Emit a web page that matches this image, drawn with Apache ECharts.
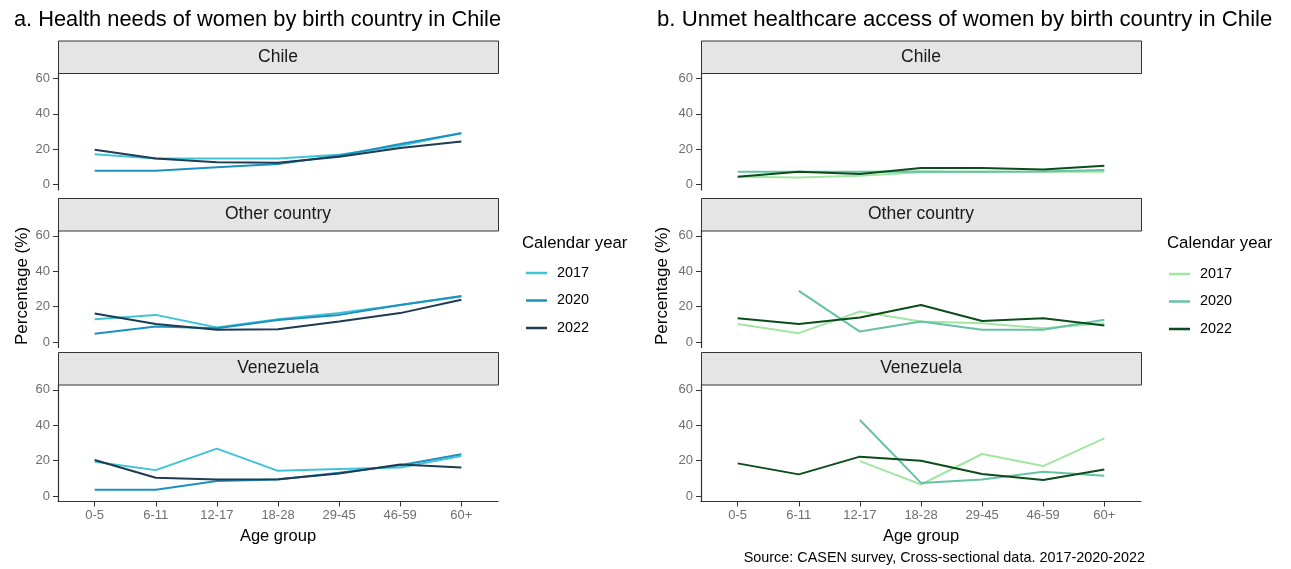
<!DOCTYPE html>
<html>
<head>
<meta charset="utf-8">
<script src="https://cdn.jsdelivr.net/npm/echarts@6/dist/echarts.min.js"></script>
<style>
html,body{margin:0;padding:0;background:#fff;}
#chart{width:1291px;height:569px;}
</style>
</head>
<body>
<div id="chart"></div>
<script>
// ---- data ----
const ages = ['0-5','6-11','12-17','18-28','29-45','46-59','60+'];
const years = ['2017','2020','2022'];
const countries = ['Chile','Other country','Venezuela'];
const yTicks = [0, 20, 40, 60];

// a. Health needs (%)
const needsChile2017 = [17.1, 14.8, 14.7, 14.7, 16.9, 22.0, 29.1];
const needsChile2020 = [7.9, 7.9, 9.8, 11.7, 16.4, 23.0, 29.0];
const needsChile2022 = [19.7, 14.8, 12.6, 12.4, 15.8, 20.7, 24.4];
const needsOther2017 = [13.0, 15.4, 8.3, 13.0, 16.5, 21.0, 25.8];
const needsOther2020 = [4.7, 8.8, 7.9, 12.5, 15.4, 21.0, 26.0];
const needsOther2022 = [16.2, 10.2, 7.0, 7.3, 11.7, 16.4, 23.9];
const needsVen2017 = [19.4, 14.7, 26.8, 14.3, 15.3, 16.2, 22.6];
const needsVen2020 = [3.6, 3.6, 8.5, 9.4, 13.2, 17.5, 23.6];
const needsVen2022 = [20.4, 10.4, 9.4, 9.6, 12.8, 17.9, 16.2];

// b. Unmet healthcare access (%)
const unmetChile2017 = [4.5, 4.1, 5.0, 7.0, 7.3, 7.3, 7.3];
const unmetChile2020 = [7.3, 7.3, 7.3, 7.5, 7.3, 7.5, 8.3];
const unmetChile2022 = [4.5, 7.3, 6.0, 9.4, 9.4, 8.6, 10.7];
const unmetOther2017 = [10.2, 5.1, 17.3, 11.7, 10.7, 7.9, 10.7];
const unmetOther2020 = [null, 28.9, 6.0, 11.7, 7.0, 7.0, 12.6];
const unmetOther2022 = [13.5, 10.2, 13.9, 21.0, 12.0, 13.5, 9.4];
const unmetVen2017 = [null, null, 19.8, 6.6, 23.8, 17.0, 32.6];
const unmetVen2020 = [null, null, 43.0, 7.5, 9.4, 13.8, 11.5];
const unmetVen2022 = [18.5, 12.3, 22.3, 20.0, 12.5, 9.1, 15.1];

// ---- styling / layout ----
const colorsA = ['#3ec4d6', '#1c90c0', '#1d3b52'];
const colorsB = ['#a3e6a3', '#66c2a4', '#0b4d1a'];
const FONT = 'Liberation Sans, Arial, sans-serif';
const gridTops = [73, 230.5, 384.5];
const gridH = 117;
const stripH = 32.5;
const lefts = [58, 701];
const gridW = 440;
const yTitleOffset = [35.5, 38.5];

const panels = [
  [[needsChile2017, needsChile2020, needsChile2022],
   [needsOther2017, needsOther2020, needsOther2022],
   [needsVen2017, needsVen2020, needsVen2022]],
  [[unmetChile2017, unmetChile2020, unmetChile2022],
   [unmetOther2017, unmetOther2020, unmetOther2022],
   [unmetVen2017, unmetVen2020, unmetVen2022]]
];

const grid = [], xAxis = [], yAxis = [], series = [], graphic = [];
for (let side = 0; side < 2; side++) {
  for (let r = 0; r < 3; r++) {
    const gi = side * 3 + r;
    const bottom = r === 2;
    grid.push({left: lefts[side], top: gridTops[r], width: gridW, height: gridH});
    xAxis.push({
      type: 'value', gridIndex: gi, min: -0.6, max: 6.6,
      axisLine: {show: bottom, onZero: false, lineStyle: {color: '#333', width: 1.2}},
      axisTick: {show: bottom, customValues: [0,1,2,3,4,5,6], length: 5, lineStyle: {color: '#333'}},
      axisLabel: {show: bottom, customValues: [0,1,2,3,4,5,6], formatter: v => ages[Math.round(v)],
                  color: '#6e6e6e', fontSize: 13, fontFamily: FONT, margin: 7},
      splitLine: {show: false}
    });
    yAxis.push({
      type: 'value', gridIndex: gi, min: -3, max: 63,
      axisLine: {show: true, onZero: false, lineStyle: {color: '#333', width: 1.2}},
      axisTick: {show: true, customValues: yTicks, length: 5, lineStyle: {color: '#333'}},
      axisLabel: {customValues: yTicks, color: '#6e6e6e', fontSize: 13, fontFamily: FONT, margin: 8},
      splitLine: {show: false}
    });
    const set = panels[side][r];
    const cols = side === 0 ? colorsA : colorsB;
    for (let k = 0; k < 3; k++) {
      series.push({
        name: (side === 0 ? 'a' : 'b') + years[k],
        type: 'line', xAxisIndex: gi, yAxisIndex: gi,
        data: set[k].map((v, i) => [i, v]),
        symbol: 'none', smooth: false, connectNulls: false,
        lineStyle: {color: cols[k], width: 2},
        itemStyle: {color: cols[k]},
        z: 2 + k
      });
    }
    // strip
    graphic.push({
      type: 'rect', left: lefts[side], top: gridTops[r] - stripH, z: 10,
      shape: {width: gridW, height: stripH},
      style: {fill: '#e5e5e5', stroke: '#333', lineWidth: 1}
    });
    graphic.push({
      type: 'text', z: 11,
      x: lefts[side] + gridW / 2, y: gridTops[r] - stripH / 2,
      style: {text: countries[r], fill: '#1a1a1a', font: '17.5px ' + FONT, textAlign: 'center', textVerticalAlign: 'middle'}
    });
  }
  // axis titles
  graphic.push({
    type: 'text', x: lefts[side] + gridW / 2, y: 536,
    style: {text: 'Age group', fill: '#000', font: '16.5px ' + FONT, textAlign: 'center', textVerticalAlign: 'middle'}
  });
  graphic.push({
    type: 'text', x: lefts[side] - yTitleOffset[side], y: 286, rotation: Math.PI / 2,
    style: {text: 'Percentage (%)', fill: '#000', font: '17px ' + FONT, textAlign: 'center', textVerticalAlign: 'middle'}
  });
  // legend title
  graphic.push({
    type: 'text', x: side === 0 ? 522 : 1167, y: 243,
    style: {text: 'Calendar year', fill: '#000', font: '16.8px ' + FONT, textAlign: 'left', textVerticalAlign: 'middle'}
  });
}
// titles & caption
graphic.push({type: 'text', x: 14, y: 20,
  style: {text: 'a. Health needs of women by birth country in Chile', fill: '#000', font: '21.8px ' + FONT, textVerticalAlign: 'middle'}});
graphic.push({type: 'text', x: 657, y: 20,
  style: {text: 'b. Unmet healthcare access of women by birth country in Chile', fill: '#000', font: '22.2px ' + FONT, textVerticalAlign: 'middle'}});
graphic.push({type: 'text', x: 1145, y: 558,
  style: {text: 'Source: CASEN survey, Cross-sectional data. 2017-2020-2022', fill: '#000', font: '14.4px ' + FONT, textAlign: 'right', textVerticalAlign: 'middle'}});

const legendBase = {
  orient: 'vertical', icon: 'rect', itemWidth: 21, itemHeight: 2.5, itemGap: 13.5,
  formatter: n => n.slice(1),
  textStyle: {fontSize: 14.4, fontFamily: FONT, color: '#000', padding: [0, 0, 0, 5]},
  selectedMode: false
};
const option = {
  animation: false,
  backgroundColor: '#fff',
  grid, xAxis, yAxis, series, graphic,
  legend: [
    Object.assign({}, legendBase, {left: 521, top: 261, data: years.map(y => 'a' + y)}),
    Object.assign({}, legendBase, {left: 1164, top: 262, data: years.map(y => 'b' + y)})
  ]
};
const chart = echarts.init(document.getElementById('chart'), null, {renderer: 'canvas'});
chart.setOption(option);
</script>
</body>
</html>
